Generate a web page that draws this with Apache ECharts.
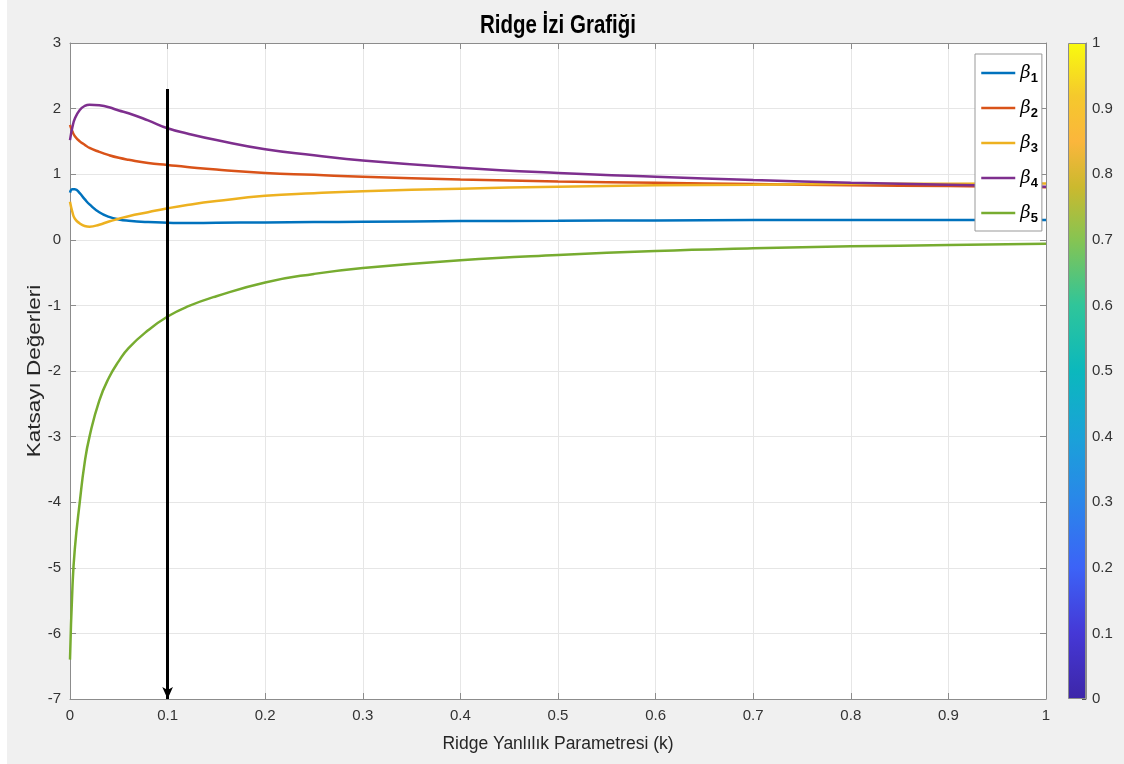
<!DOCTYPE html>
<html>
<head>
<meta charset="utf-8">
<script src="https://cdn.jsdelivr.net/npm/echarts@6/dist/echarts.min.js"></script>
<style>
html,body{margin:0;padding:0;background:#f0f0f0;}
#chart{width:1124px;height:764px;}
</style>
</head>
<body>
<div id="chart"></div>
<script>
// ---- data ----
const kValues = [0, 0.0025, 0.005, 0.01, 0.015, 0.02, 0.03, 0.04, 0.05, 0.06, 0.08, 0.1, 0.12, 0.15, 0.2, 0.25, 0.3, 0.4, 0.5, 0.6, 0.7, 0.8, 0.9, 1.0];
const beta1 = [0.72, 0.77, 0.77, 0.71, 0.62, 0.54, 0.42, 0.35, 0.31, 0.29, 0.27, 0.26, 0.255, 0.26, 0.265, 0.27, 0.275, 0.285, 0.29, 0.295, 0.30, 0.30, 0.30, 0.30];
const beta2 = [1.75, 1.65, 1.58, 1.50, 1.45, 1.40, 1.34, 1.29, 1.25, 1.22, 1.17, 1.14, 1.11, 1.07, 1.02, 0.99, 0.96, 0.92, 0.89, 0.87, 0.85, 0.83, 0.82, 0.80];
const beta3 = [0.58, 0.42, 0.32, 0.25, 0.21, 0.20, 0.23, 0.28, 0.32, 0.36, 0.42, 0.48, 0.53, 0.59, 0.67, 0.71, 0.74, 0.78, 0.81, 0.83, 0.84, 0.85, 0.855, 0.86];
const beta4 = [1.52, 1.72, 1.85, 1.98, 2.04, 2.06, 2.05, 2.02, 1.97, 1.93, 1.82, 1.70, 1.62, 1.52, 1.38, 1.29, 1.21, 1.10, 1.02, 0.96, 0.91, 0.87, 0.84, 0.81];
const beta5 = [-6.4, -5.3, -4.7, -4.0, -3.4, -3.0, -2.45, -2.1, -1.85, -1.65, -1.38, -1.17, -1.02, -0.86, -0.65, -0.52, -0.43, -0.31, -0.23, -0.17, -0.13, -0.10, -0.08, -0.06];
const seriesNames = ['1', '2', '3', '4', '5'];
const arrowStart = [0.1, 2.3];
const arrowEnd = [0.1, -7];
const xTicks = ['0', '0.1', '0.2', '0.3', '0.4', '0.5', '0.6', '0.7', '0.8', '0.9', '1'];
const colorbarStops = [
  [0.0, '#3d26a8'], [0.1, '#4538d6'], [0.2, '#3c63f7'], [0.3, '#2a86ea'],
  [0.4, '#1aa2d8'], [0.5, '#0bb8bd'], [0.6, '#2fc59a'], [0.7, '#86c452'],
  [0.78, '#cbb92e'], [0.85, '#fbb63c'], [0.92, '#f5c92c'], [1.0, '#f9fb0e']
];
const colors = ['#0072BD', '#D95319', '#EDB120', '#7E2F8E', '#77AC30'];

const allBetas = [beta1, beta2, beta3, beta4, beta5];
const chart = echarts.init(document.getElementById('chart'));
const font = 'Liberation Sans, Arial, Helvetica, sans-serif';
const tickColor = '#333333';
const axisLineColor = '#8c8c8c';

const lineSeries = allBetas.map((arr, i) => ({
  name: seriesNames[i],
  type: 'line',
  xAxisIndex: 0, yAxisIndex: 0,
  data: kValues.map((k, j) => [k, arr[j]]),
  smooth: 0.5,
  symbol: 'none',
  showSymbol: false,
  lineStyle: { color: colors[i], width: 2.5 },
  itemStyle: { color: colors[i] },
  z: 3
}));

lineSeries.push({
  name: 'arrow',
  type: 'line',
  xAxisIndex: 0, yAxisIndex: 0,
  data: [],
  symbol: 'none',
  markLine: {
    silent: true,
    symbol: ['none', 'arrow'],
    symbolSize: [8, 12],
    label: { show: false },
    lineStyle: { color: '#000', width: 3, type: 'solid' },
    data: [[{ coord: arrowStart }, { coord: arrowEnd }]]
  },
  z: 4
});

lineSeries.push({
  name: 'colorbar',
  type: 'bar',
  xAxisIndex: 2, yAxisIndex: 2,
  data: [1],
  barWidth: '100%',
  silent: true,
  itemStyle: {
    borderColor: axisLineColor,
    borderWidth: 1,
    color: new echarts.graphic.LinearGradient(0, 1, 0, 0,
      colorbarStops.map(s => ({ offset: s[0], color: s[1] })))
  }
});

const option = {
  backgroundColor: '#f0f0f0',
  animation: false,
  textStyle: { fontFamily: font },
  graphic: [
    { type: 'rect', shape: { x: 0, y: 0, width: 7, height: 764 }, style: { fill: '#ffffff' }, silent: true },
    {
      type: 'text', x: 558, y: 26, scaleY: 1.25,
      style: { text: 'Ridge İzi Grafiği', fontFamily: font, fontSize: 20.5, fontWeight: 'bold', fill: '#000', align: 'center', verticalAlign: 'middle' },
      silent: true
    },
    {
      type: 'text', x: 35, y: 371, rotation: Math.PI / 2, scaleX: 1.25,
      style: { text: 'Katsayı Değerleri', fontFamily: font, fontSize: 18, fill: '#262626', align: 'center', verticalAlign: 'middle' },
      silent: true
    }
  ],
  legend: {
    data: seriesNames,
    orient: 'vertical',
    left: 975, top: 54,
    padding: [7, 4, 6, 5],
    itemGap: 11,
    itemWidth: 34,
    itemHeight: 14,
    backgroundColor: '#ffffff',
    borderColor: '#999999',
    borderWidth: 1,
    borderRadius: 0,
    selectedMode: false,
    itemStyle: { opacity: 0 },
    lineStyle: { width: 2.5 },
    formatter: function (n) { return '{b|β}{s|' + n + '}'; },
    textStyle: {
      rich: {
        b: { fontFamily: 'DejaVu Serif, serif', fontStyle: 'italic', fontSize: 18, color: '#000', lineHeight: 22 },
        s: { fontFamily: font, fontWeight: 'bold', fontSize: 13, color: '#000', padding: [11, 0, 0, 0], lineHeight: 22 }
      }
    }
  },
  grid: [
    { left: 70, top: 43, width: 976, height: 656, backgroundColor: '#fff', show: true, borderWidth: 0 },
    { left: 1068, top: 43, width: 18, height: 656 }
  ],
  xAxis: [
    {
      type: 'value', gridIndex: 0, min: 0, max: 1, interval: 0.1,
      name: 'Ridge Yanlılık Parametresi (k)', nameLocation: 'middle', nameGap: 36,
      nameTextStyle: { fontFamily: font, fontSize: 17.5, color: '#262626' },
      axisLine: { show: true, onZero: false, lineStyle: { color: axisLineColor, width: 1 } },
      axisTick: { show: true, inside: true, length: 6, lineStyle: { color: axisLineColor } },
      axisLabel: { fontFamily: font, fontSize: 15, color: tickColor, margin: 9,
        formatter: function (v) { return xTicks[Math.round(v * 10)]; } },
      splitLine: { show: true, lineStyle: { color: '#e6e6e6', width: 1 } }
    },
    {
      type: 'value', gridIndex: 0, min: 0, max: 1, interval: 0.1, position: 'top',
      axisLine: { show: true, onZero: false, lineStyle: { color: axisLineColor, width: 1 } },
      axisTick: { show: true, inside: true, length: 6, lineStyle: { color: axisLineColor } },
      axisLabel: { show: false },
      splitLine: { show: false }
    },
    {
      type: 'category', gridIndex: 1, data: [''], show: false
    }
  ],
  yAxis: [
    {
      type: 'value', gridIndex: 0, min: -7, max: 3, interval: 1,
      axisLine: { show: true, onZero: false, lineStyle: { color: axisLineColor, width: 1 } },
      axisTick: { show: true, inside: true, length: 6, lineStyle: { color: axisLineColor } },
      axisLabel: { fontFamily: font, fontSize: 15, color: tickColor, margin: 9 },
      splitLine: { show: true, lineStyle: { color: '#e6e6e6', width: 1 } }
    },
    {
      type: 'value', gridIndex: 0, min: -7, max: 3, interval: 1, position: 'right',
      axisLine: { show: true, onZero: false, lineStyle: { color: axisLineColor, width: 1 } },
      axisTick: { show: true, inside: true, length: 6, lineStyle: { color: axisLineColor } },
      axisLabel: { show: false },
      splitLine: { show: false }
    },
    {
      type: 'value', gridIndex: 1, min: 0, max: 1, interval: 0.1, position: 'right',
      axisLine: { show: true, lineStyle: { color: axisLineColor, width: 1 } },
      axisTick: { show: true, inside: true, length: 4, lineStyle: { color: '#555' } },
      axisLabel: { fontFamily: font, fontSize: 15, color: tickColor, margin: 6,
        formatter: function (v) { return String(+v.toFixed(1)); } },
      splitLine: { show: false }
    }
  ],
  series: lineSeries
};
chart.setOption(option);
</script>
</body>
</html>
